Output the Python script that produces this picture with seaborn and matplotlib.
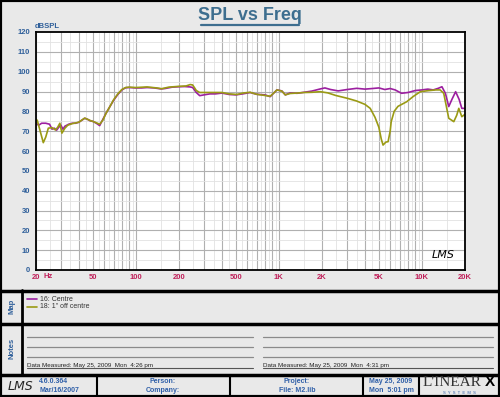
import seaborn as sns
import matplotlib.pyplot as plt
import matplotlib.patches as patches
import numpy as np
import pandas as pd

# frequency response
centre_freq = [20, 21, 22, 23.5, 25, 26, 27, 28, 29, 30, 31, 32, 34, 36, 38, 40, 42, 44, 46, 48,
               50, 53, 56, 58, 62, 66, 70, 75, 80, 85, 90, 100, 110, 120, 135, 150, 160, 180,
               200, 220, 240, 250, 265, 280, 300, 330, 360, 400, 450, 500, 560, 630, 700, 800,
               870, 930, 970, 1050, 1110, 1200, 1340, 1500, 1700, 1950, 2100, 2300, 2600, 3000,
               3500, 4000, 4500, 5000, 5500, 6000, 6500, 7200, 8000, 9000, 10000, 11000, 12000,
               13000, 13800, 14600, 15400, 16200, 17200, 18200, 19000, 20000]
centre_spl = [74, 73, 74, 74, 73.5, 71, 71.5, 70.5, 72, 73, 71, 72.5, 73.5, 74, 74, 74.5, 75.5,
              76.5, 76, 75.2, 75, 74, 72.8, 75, 79, 82.4, 85.5, 88.5, 90.8, 91.9, 92, 91.8, 91.8,
              92, 91.8, 91.3, 91.5, 92.2, 92.4, 92.5, 92.3, 92, 89.5, 87.9, 88.3, 88.8, 88.8,
              89.2, 88.5, 88.3, 88.8, 89.5, 88.6, 88.3, 87.4, 89.5, 90.8, 90.3, 88.3, 89.3, 89.1,
              89.6, 90.2, 91.3, 91.8, 91.0, 90.3, 91.0, 91.6, 91.2, 91.5, 91.8, 91.0, 91.5, 90.8,
              89.1, 89.5, 90.5, 90.8, 91.2, 90.8, 91.6, 92.4, 89, 82.4, 86, 89.9, 86, 81.5, 81.5]

off_freq = [20, 20.5, 21.5, 22.6, 23.5, 24.5, 26, 27.5, 28.5, 29.5, 30.5, 32, 33.5, 36, 40, 44,
            48, 52, 56, 59, 62, 66, 70, 75, 80, 85, 90, 100, 120, 140, 152, 170, 200, 225, 240,
            250, 265, 280, 300, 350, 400, 450, 510, 560, 630, 700, 800, 870, 930, 970, 1050,
            1110, 1200, 1340, 1500, 1700, 1950, 2200, 2500, 3000, 3500, 4000, 4350, 4700, 5000,
            5200, 5350, 5600, 5800, 6000, 6100, 6400, 6800, 7850, 8700, 9750, 11000, 12500,
            13400, 14200, 15400, 16700, 17500, 18100, 19000, 20000]
off_spl = [76, 75.5, 70, 64.2, 67, 71.5, 71.8, 70.6, 72, 74, 69, 71.5, 73, 73.8, 74.5, 76.6,
           75.4, 74.5, 73.5, 75.6, 79, 82.4, 85.8, 88.8, 91, 92, 92.2, 92, 92.3, 91.8, 91.4,
           92.2, 92.6, 92.8, 93.5, 93.3, 90.5, 89.5, 89.5, 89.5, 89.5, 88.8, 88.5, 89.2, 89.6,
           88.6, 88, 87.6, 89.5, 90.8, 90.2, 88.3, 89.0, 89.2, 89.5, 89.6, 89.9, 89.3, 88,
           86.6, 85.2, 83.5, 81.5, 77, 72, 66, 63, 64.5, 64.7, 70, 74.8, 80, 82.5, 84.9, 87.5,
           89.9, 90.4, 90.8, 90.8, 89.1, 76.5, 74.8, 78, 81.5, 77.3, 78.5]

series_names = ['16: Centre', '18: 1" off centre']
series_colors = ['#9c1fa0', '#9a9a14']

x_ticks = [20, 50, 100, 200, 500, 1000, 2000, 5000, 10000, 20000]
x_tick_labels = ['20', '50', '100', '200', '500', '1K', '2K', '5K', '10K', '20K']
y_ticks = list(range(0, 121, 10))

df = pd.concat([
    pd.DataFrame({'freq': centre_freq, 'spl': centre_spl, 'curve': series_names[0]}),
    pd.DataFrame({'freq': off_freq, 'spl': off_spl, 'curve': series_names[1]}),
])

sns.set_style('white')
plt.rcParams['font.family'] = ['Liberation Sans', 'DejaVu Sans']

W, H = 500, 397
fig = plt.figure(figsize=(W / 100, H / 100), dpi=100)
fig.patch.set_facecolor('#e9e9e9')


def fx(x):
    return x / W


def fy(y):
    return 1 - y / H


def hline(y, x0, x1, lw=1.0, color='black'):
    fig.add_artist(plt.Line2D([fx(x0), fx(x1)], [fy(y), fy(y)], lw=lw, color=color,
                              transform=fig.transFigure))


def vline(x, y0, y1, lw=1.0, color='black'):
    fig.add_artist(plt.Line2D([fx(x), fx(x)], [fy(y0), fy(y1)], lw=lw, color=color,
                              transform=fig.transFigure))


# main plot
ax = fig.add_axes([fx(35.7), fy(270), (465 - 35.7) / W, 238 / H])
ax.set_facecolor('white')
ax.set_xscale('log')
ax.set_xlim(20, 20000)
ax.set_ylim(0, 120)

major_x = [m * 10 ** d for d in range(1, 5) for m in range(1, 10) if 20 <= m * 10 ** d <= 20000]
minor_x = [m * 10 ** d for d in range(1, 5) for m in np.arange(1.5, 10, 1) if 20 <= m * 10 ** d <= 20000]
for f in minor_x:
    ax.axvline(f, color='#e2e2e2', lw=0.6, zorder=0)
for f in major_x:
    ax.axvline(f, color='#b0b0b0', lw=0.8, zorder=0)
for v in range(5, 120, 10):
    ax.axhline(v, color='#e2e2e2', lw=0.6, zorder=0)
for v in range(10, 120, 10):
    ax.axhline(v, color='#b0b0b0', lw=0.8, zorder=0)

sns.lineplot(data=df, x='freq', y='spl', hue='curve', palette=series_colors,
             estimator=None, sort=False, lw=1.2, legend=False, ax=ax)

ax.set_xticks(x_ticks)
ax.set_xticklabels(x_tick_labels)
ax.xaxis.set_minor_locator(plt.NullLocator())
ax.set_yticks(y_ticks)
ax.set_xlabel('')
ax.set_ylabel('')
ax.tick_params(axis='x', length=0, pad=3, labelsize=5.5, labelcolor='#c0205a')
ax.tick_params(axis='y', length=0, pad=4, labelsize=5.5, labelcolor='#2f5f9a')
for lab in ax.get_xticklabels() + ax.get_yticklabels():
    lab.set_fontweight('bold')
for sp in ax.spines.values():
    sp.set_color('black')
    sp.set_linewidth(1.3)
ax.text(0.975, 0.04, 'LMS', transform=ax.transAxes, ha='right', va='bottom',
        fontsize=8, style='italic', family='DejaVu Sans', color='black')

fig.text(fx(43), fy(276), 'Hz', fontsize=5.5, color='#c0205a', fontweight='bold',
         ha='left', va='center')
fig.text(fx(35), fy(27), 'dBSPL', fontsize=5.5, color='#2f5f9a', fontweight='bold',
         ha='left', va='center')

# title
fig.text(0.5, fy(16), 'SPL vs Freq', fontsize=13, color='#3d6e8f', fontweight='bold',
         ha='center', va='center')
hline(24.5, 201, 299, lw=1.6, color='#3d6e8f')

# panel frame
fig.add_artist(patches.Rectangle((0, 0), 1, 1, transform=fig.transFigure, fill=False,
                                 lw=3, edgecolor='black'))
hline(290.5, 0, W, lw=2.5)
hline(323.5, 0, W, lw=2.5)
hline(374.5, 0, W, lw=2.5)
vline(22, 290, 374, lw=2)
for xb in [97, 230, 363, 419]:
    vline(xb, 375, H, lw=1.5)

fig.text(fx(11.5), fy(306), 'Map', rotation=90, fontsize=5.5, color='#2f5f9a',
         fontweight='bold', ha='center', va='center')
fig.text(fx(11.5), fy(348), 'Notes', rotation=90, fontsize=5.5, color='#2f5f9a',
         fontweight='bold', ha='center', va='center')

# map legend
for i, (name, col) in enumerate(zip(series_names, series_colors)):
    yy = 299.3 + i * 7.7
    hline(yy, 27, 37, lw=1.2, color=col)
    fig.text(fx(40), fy(yy), name, fontsize=5, color='#333333', ha='left', va='center')

# notes lines
for x0, x1, stamp in [(27, 253, '4:26 pm'), (263, 493, '4:31 pm')]:
    for yy in [336.5, 346.5, 356.8]:
        hline(yy, x0, x1, lw=0.9, color='#8a8a8a')
    hline(367.8, x0, x1, lw=0.8, color='#555555')
    fig.text(fx(x0), fy(365), f'Data Measured: May 25, 2009  Mon  {stamp}', fontsize=4.5,
             color='#222222', ha='left', va='center')

# footer
fig.text(fx(20), fy(386), 'LMS', fontsize=9, style='italic', family='DejaVu Sans',
         ha='center', va='center')
blue = '#2f5fa8'
footer = [(39, '4.6.0.364', 'Mar/16/2007', 'left'), (163, 'Person:', 'Company:', 'center'),
          (297, 'Project:', 'File: M2.lib', 'center'), (391, 'May 25, 2009', 'Mon  5:01 pm', 'center')]
for xx, t1, t2, ha in footer:
    fig.text(fx(xx), fy(381.5), t1, fontsize=5, color=blue, fontweight='bold', ha=ha, va='center')
    fig.text(fx(xx), fy(390.5), t2, fontsize=5, color=blue, fontweight='bold', ha=ha, va='center')

fig.text(fx(423), fy(382.5), "L'INEAR", fontsize=11, family='Liberation Serif', color='#333333',
         ha='left', va='center')
fig.text(fx(495), fy(382.5), 'X', fontsize=11, family='Liberation Sans', fontweight='bold',
         color='black', ha='right', va='center')
fig.text(fx(459), fy(392.5), 'S  Y  S  T  E  M  S', fontsize=3, color=blue, ha='center',
         va='center')

fig.savefig('out.png', dpi=100, facecolor=fig.get_facecolor())
